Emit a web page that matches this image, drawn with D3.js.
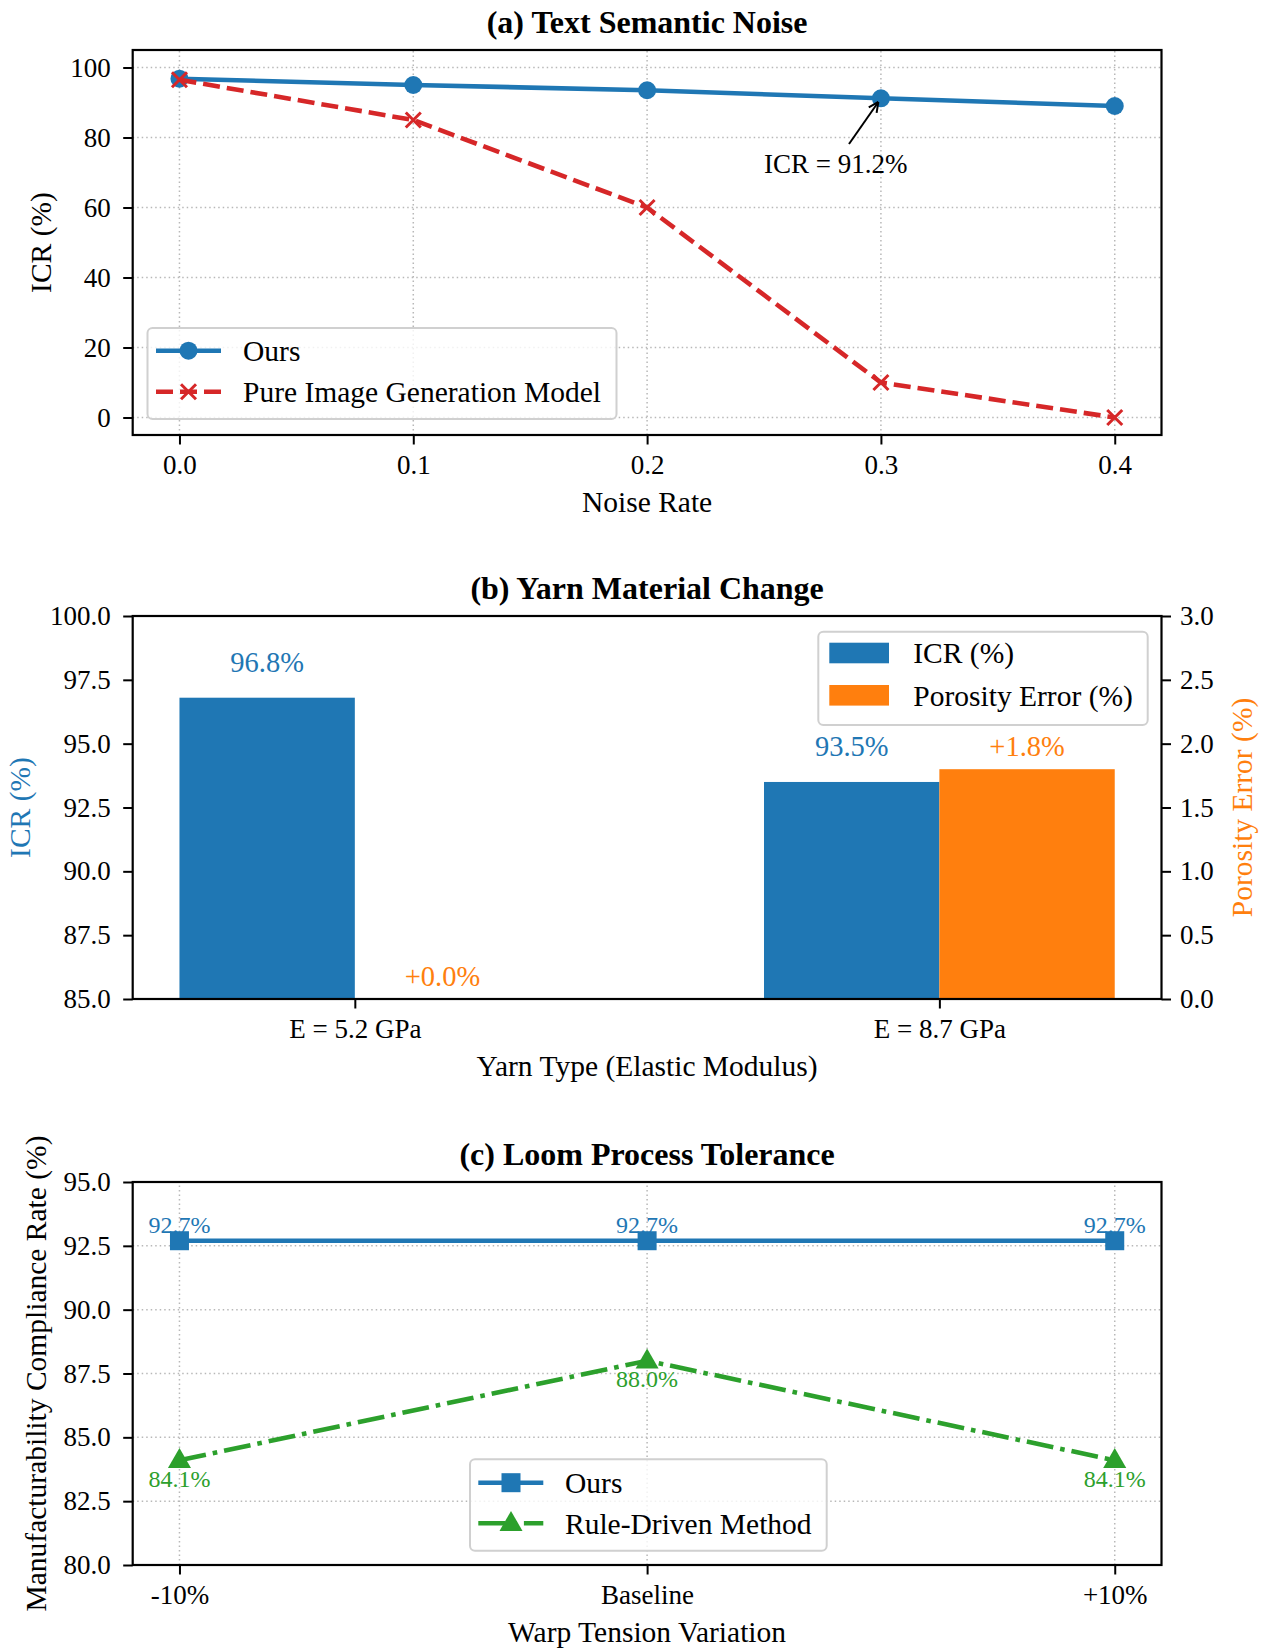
<!DOCTYPE html>
<html>
<head>
<meta charset="utf-8">
<script src="https://cdn.jsdelivr.net/npm/d3@7"></script>
<style>
  body { margin: 0; background: #fff; }
  svg { display: block; background: #fff; }
  text { font-family: "Liberation Serif", "Times New Roman", serif; }
</style>
</head>
<body>
<svg id="chart" width="1263" height="1649"></svg>
<script>
// (a) text semantic noise
const noiseRates = [0.0, 0.1, 0.2, 0.3, 0.4];
const oursNoise = [96.8, 95.0, 93.5, 91.2, 89.0];
const pureNoise = [96.5, 85.0, 60.0, 10.0, 0.0];
const noiseTicksY = [0, 20, 40, 60, 80, 100];

// (b) yarn material change
const yarnTypes = ["E = 5.2 GPa", "E = 8.7 GPa"];
const yarnICR = [96.8, 93.5];
const yarnPorosity = [0.0, 1.8];
const yarnTicksLeft = [85, 87.5, 90, 92.5, 95, 97.5, 100];
const yarnTicksRight = [0, 0.5, 1.0, 1.5, 2.0, 2.5, 3.0];

// (c) loom process tolerance
const tensionLevels = ["-10%", "Baseline", "+10%"];
const oursTension = [92.7, 92.7, 92.7];
const ruleTension = [84.1, 88.0, 84.1];
const tensionTicksY = [80, 82.5, 85, 87.5, 90, 92.5, 95];

const BLUE = "#1f77b4", ORANGE = "#ff7f0e", GREEN = "#2ca02c", RED = "#d62728";
const TICK_FS = 27, LABEL_FS = 29.5, TITLE_FS = 32, LEGEND_FS = 29.5;
const LW = 4.6;
const DASH = "17,7", DASHDOT = "27,7,4.6,7";

const svg = d3.select("#chart");
const left = 132.7, right = 1161.5;

// helpers
function styleAxis(g) {
  g.select(".domain").remove();
  g.selectAll(".tick line").attr("stroke", "#000").attr("stroke-width", 2);
  g.selectAll(".tick text").attr("fill", "#000").style("font-size", TICK_FS + "px");
}

function frame(top, bottom) {
  svg.append("rect")
    .attr("x", left).attr("y", top)
    .attr("width", right - left).attr("height", bottom - top)
    .attr("fill", "none").attr("stroke", "#000").attr("stroke-width", 2.2);
}

function grid(xs, ys, x, y) {
  const g = svg.append("g")
    .attr("stroke", "#b8b8b8").attr("stroke-width", 1.5)
    .attr("stroke-dasharray", "1.5,3");
  xs.forEach(v => g.append("line")
    .attr("x1", x(v)).attr("x2", x(v)).attr("y1", y.range()[0]).attr("y2", y.range()[1]));
  ys.forEach(v => g.append("line")
    .attr("x1", x.range()[0]).attr("x2", x.range()[1]).attr("y1", y(v)).attr("y2", y(v)));
}

function title(txt, top) {
  svg.append("text").attr("x", (left + right) / 2).attr("y", top - 17)
    .attr("text-anchor", "middle").style("font-size", TITLE_FS + "px")
    .style("font-weight", "bold").text(txt);
}

function xLabel(txt, bottom) {
  svg.append("text").attr("x", (left + right) / 2).attr("y", bottom + 77)
    .attr("text-anchor", "middle").style("font-size", LABEL_FS + "px").text(txt);
}

function yLabel(txt, xPos, top, bottom, color) {
  svg.append("text")
    .attr("transform", `translate(${xPos},${(top + bottom) / 2}) rotate(-90)`)
    .attr("text-anchor", "middle").attr("fill", color || "#000")
    .style("font-size", LABEL_FS + "px").text(txt);
}

function legendBox(x0, y0, w, h) {
  svg.append("rect").attr("x", x0).attr("y", y0).attr("width", w).attr("height", h)
    .attr("rx", 5).attr("fill", "#fff").attr("fill-opacity", 0.8)
    .attr("stroke", "#d0d0d0").attr("stroke-width", 2);
}

function xMarker(g, cx, cy, s, color) {
  g.append("path")
    .attr("d", `M${cx - s},${cy - s}L${cx + s},${cy + s}M${cx - s},${cy + s}L${cx + s},${cy - s}`)
    .attr("stroke", color).attr("stroke-width", 3).attr("fill", "none");
}

const triangle = d3.symbol().type(d3.symbolTriangle).size(230);

// ---------------- panel (a) ----------------
{
  const top = 50, bottom = 435;
  const x = d3.scaleLinear().domain([-0.02, 0.42]).range([left, right]);
  const y = d3.scaleLinear().domain([-5, 105]).range([bottom, top]);

  grid(noiseRates, noiseTicksY, x, y);

  const line = d3.line().x((d, i) => x(noiseRates[i])).y(d => y(d));
  svg.append("path").datum(oursNoise).attr("d", line)
    .attr("fill", "none").attr("stroke", BLUE).attr("stroke-width", LW);
  svg.selectAll(".ptA").data(oursNoise).enter().append("circle")
    .attr("cx", (d, i) => x(noiseRates[i])).attr("cy", d => y(d))
    .attr("r", 9).attr("fill", BLUE);

  svg.append("path").datum(pureNoise).attr("d", line)
    .attr("fill", "none").attr("stroke", RED).attr("stroke-width", LW)
    .attr("stroke-dasharray", DASH);
  const gx = svg.append("g");
  pureNoise.forEach((d, i) => xMarker(gx, x(noiseRates[i]), y(d), 7.5, RED));

  svg.append("g").attr("transform", `translate(0,${bottom})`)
    .call(d3.axisBottom(x).tickValues(noiseRates).tickFormat(d3.format(".1f"))
      .tickSize(9.5).tickPadding(10.3))
    .call(styleAxis);
  svg.append("g").attr("transform", `translate(${left},0)`)
    .call(d3.axisLeft(y).tickValues(noiseTicksY).tickFormat(d3.format("d"))
      .tickSize(9.5).tickPadding(12.5))
    .call(styleAxis);
  frame(top, bottom);

  // annotation
  const px = x(0.3), py = y(91.2);
  const tx = x(0.25), ty = y(70);
  svg.append("text").attr("x", tx).attr("y", ty)
    .style("font-size", TICK_FS + "px").text("ICR = 91.2%");
  const sx = 849, sy = 144;
  const ang = Math.atan2(py - sy, px - sx);
  const ex = px - 4.5 * Math.cos(ang), ey = py - 4.5 * Math.sin(ang);
  const ag = svg.append("g").attr("stroke", "#000").attr("stroke-width", 2).attr("fill", "none");
  ag.append("line").attr("x1", sx).attr("y1", sy).attr("x2", ex).attr("y2", ey);
  [0.45, -0.45].forEach(da => {
    ag.append("line").attr("x1", ex).attr("y1", ey)
      .attr("x2", ex - 11 * Math.cos(ang + da)).attr("y2", ey - 11 * Math.sin(ang + da));
  });

  title("(a) Text Semantic Noise", top);
  xLabel("Noise Rate", bottom);
  yLabel("ICR (%)", 51, top, bottom);

  // legend
  legendBox(147.5, 328, 469, 91);
  const lg = svg.append("g");
  lg.append("line").attr("x1", 156).attr("x2", 221).attr("y1", 350.7).attr("y2", 350.7)
    .attr("stroke", BLUE).attr("stroke-width", LW);
  lg.append("circle").attr("cx", 188.5).attr("cy", 350.7).attr("r", 9).attr("fill", BLUE);
  lg.append("line").attr("x1", 156).attr("x2", 221).attr("y1", 391.7).attr("y2", 391.7)
    .attr("stroke", RED).attr("stroke-width", LW).attr("stroke-dasharray", DASH);
  xMarker(lg, 188.5, 391.7, 7.5, RED);
  lg.append("text").attr("x", 243).attr("y", 350.7).attr("dy", "0.35em")
    .style("font-size", LEGEND_FS + "px").text("Ours");
  lg.append("text").attr("x", 243).attr("y", 391.7).attr("dy", "0.35em")
    .style("font-size", LEGEND_FS + "px").text("Pure Image Generation Model");
}

// ---------------- panel (b) ----------------
{
  const top = 616, bottom = 999;
  const x = d3.scaleLinear().domain([-0.38, 1.38]).range([left, right]);
  const yL = d3.scaleLinear().domain([85, 100]).range([bottom, top]);
  const yR = d3.scaleLinear().domain([0, 3]).range([bottom, top]);
  const bw = 0.3;

  svg.selectAll(".barICR").data(yarnICR).enter().append("rect")
    .attr("x", (d, i) => x(i - bw)).attr("width", x(bw) - x(0))
    .attr("y", d => yL(d)).attr("height", d => bottom - yL(d))
    .attr("fill", BLUE);
  svg.selectAll(".barPor").data(yarnPorosity).enter().append("rect")
    .attr("x", (d, i) => x(i)).attr("width", x(bw) - x(0))
    .attr("y", d => yR(d)).attr("height", d => bottom - yR(d))
    .attr("fill", ORANGE);

  yarnICR.forEach((d, i) => {
    svg.append("text").attr("x", x(i - bw / 2)).attr("y", yL(d + 1.0))
      .attr("text-anchor", "middle").attr("fill", BLUE)
      .style("font-size", "28.5px").text(d.toFixed(1) + "%");
  });
  yarnPorosity.forEach((d, i) => {
    svg.append("text").attr("x", x(i + bw / 2)).attr("y", yR(d + 0.1))
      .attr("text-anchor", "middle").attr("fill", ORANGE)
      .style("font-size", "28.5px").text("+" + d.toFixed(1) + "%");
  });

  svg.append("g").attr("transform", `translate(0,${bottom})`)
    .call(d3.axisBottom(x).tickValues([0, 1]).tickFormat(i => yarnTypes[i])
      .tickSize(9.5).tickPadding(10.3))
    .call(styleAxis);
  svg.append("g").attr("transform", `translate(${left},0)`)
    .call(d3.axisLeft(yL).tickValues(yarnTicksLeft).tickFormat(d3.format(".1f"))
      .tickSize(9.5).tickPadding(12.5))
    .call(styleAxis);
  svg.append("g").attr("transform", `translate(${right},0)`)
    .call(d3.axisRight(yR).tickValues(yarnTicksRight).tickFormat(d3.format(".1f"))
      .tickSize(9.5).tickPadding(9))
    .call(styleAxis);
  frame(top, bottom);

  title("(b) Yarn Material Change", top);
  xLabel("Yarn Type (Elastic Modulus)", bottom);
  yLabel("ICR (%)", 30, top, bottom, BLUE);
  yLabel("Porosity Error (%)", 1252, top, bottom, ORANGE);

  legendBox(818.3, 631.7, 329.4, 93.3);
  const lg = svg.append("g");
  lg.append("rect").attr("x", 829.3).attr("y", 642.7).attr("width", 59.7).attr("height", 20.6).attr("fill", BLUE);
  lg.append("rect").attr("x", 829.3).attr("y", 685).attr("width", 59.7).attr("height", 20.6).attr("fill", ORANGE);
  lg.append("text").attr("x", 913.3).attr("y", 653).attr("dy", "0.35em")
    .style("font-size", LEGEND_FS + "px").text("ICR (%)");
  lg.append("text").attr("x", 913.3).attr("y", 695.3).attr("dy", "0.35em")
    .style("font-size", LEGEND_FS + "px").text("Porosity Error (%)");
}

// ---------------- panel (c) ----------------
{
  const top = 1182, bottom = 1565;
  const x = d3.scaleLinear().domain([-0.1, 2.1]).range([left, right]);
  const y = d3.scaleLinear().domain([80, 95]).range([bottom, top]);
  const idx = tensionLevels.map((d, i) => i);

  grid(idx, tensionTicksY, x, y);

  const line = d3.line().x((d, i) => x(i)).y(d => y(d));
  svg.append("path").datum(oursTension).attr("d", line)
    .attr("fill", "none").attr("stroke", BLUE).attr("stroke-width", LW);
  svg.selectAll(".sq").data(oursTension).enter().append("rect")
    .attr("x", (d, i) => x(i) - 9.5).attr("y", d => y(d) - 9.5)
    .attr("width", 19).attr("height", 19).attr("fill", BLUE);

  svg.append("path").datum(ruleTension).attr("d", line)
    .attr("fill", "none").attr("stroke", GREEN).attr("stroke-width", LW)
    .attr("stroke-dasharray", DASHDOT);
  svg.selectAll(".tri").data(ruleTension).enter().append("path")
    .attr("d", triangle)
    .attr("transform", (d, i) => `translate(${x(i)},${y(d) + 1})`)
    .attr("fill", GREEN);

  oursTension.forEach((d, i) => {
    svg.append("text").attr("x", x(i)).attr("y", y(d + 0.3))
      .attr("text-anchor", "middle").attr("fill", BLUE)
      .style("font-size", "24px").text(d.toFixed(1) + "%");
  });
  ruleTension.forEach((d, i) => {
    svg.append("text").attr("x", x(i)).attr("y", y(d - 0.3) + 19)
      .attr("text-anchor", "middle").attr("fill", GREEN)
      .style("font-size", "24px").text(d.toFixed(1) + "%");
  });

  svg.append("g").attr("transform", `translate(0,${bottom})`)
    .call(d3.axisBottom(x).tickValues(idx).tickFormat(i => tensionLevels[i])
      .tickSize(9.5).tickPadding(10.3))
    .call(styleAxis);
  svg.append("g").attr("transform", `translate(${left},0)`)
    .call(d3.axisLeft(y).tickValues(tensionTicksY).tickFormat(d3.format(".1f"))
      .tickSize(9.5).tickPadding(12.5))
    .call(styleAxis);
  frame(top, bottom);

  title("(c) Loom Process Tolerance", top);
  xLabel("Warp Tension Variation", bottom);
  yLabel("Manufacturability Compliance Rate (%)", 46, top, bottom);

  legendBox(470, 1459.3, 356.7, 91.4);
  const lg = svg.append("g");
  lg.append("line").attr("x1", 478.3).attr("x2", 543.3).attr("y1", 1482.7).attr("y2", 1482.7)
    .attr("stroke", BLUE).attr("stroke-width", LW);
  lg.append("rect").attr("x", 511 - 9.5).attr("y", 1482.7 - 9.5).attr("width", 19).attr("height", 19).attr("fill", BLUE);
  lg.append("line").attr("x1", 478.3).attr("x2", 543.3).attr("y1", 1523.3).attr("y2", 1523.3)
    .attr("stroke", GREEN).attr("stroke-width", LW).attr("stroke-dasharray", DASHDOT);
  lg.append("path").attr("d", triangle).attr("transform", "translate(511,1524.3)").attr("fill", GREEN);
  lg.append("text").attr("x", 565).attr("y", 1482.7).attr("dy", "0.35em")
    .style("font-size", LEGEND_FS + "px").text("Ours");
  lg.append("text").attr("x", 565).attr("y", 1523.3).attr("dy", "0.35em")
    .style("font-size", LEGEND_FS + "px").text("Rule-Driven Method");
}
</script>
</body>
</html>
